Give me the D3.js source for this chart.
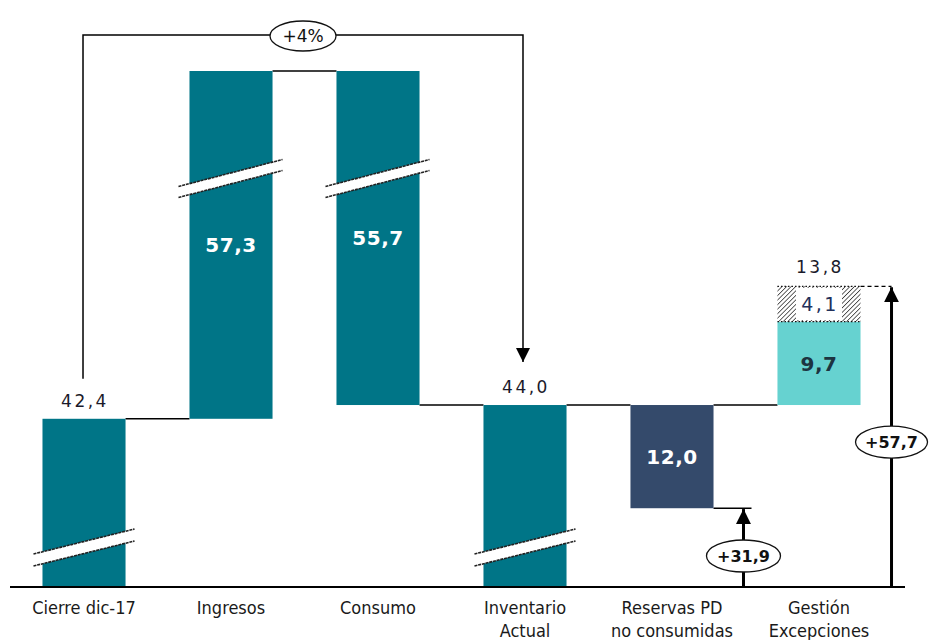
<!DOCTYPE html>
<html><head><meta charset="utf-8">
<script src="https://cdn.jsdelivr.net/npm/d3@7"></script>
<style>body{margin:0;background:#fff;} svg{display:block;}</style>
</head><body><svg id="c" width="930" height="640"></svg>
<script>
// ---- data ----
const categories = ["Cierre dic-17", "Ingresos", "Consumo", "Inventario Actual", "Reservas PD no consumidas", "Gestión Excepciones"];
const categoryLines = [["Cierre dic-17"], ["Ingresos"], ["Consumo"], ["Inventario", "Actual"], ["Reservas PD", "no consumidas"], ["Gestión", "Excepciones"]];
const barFrom = [0, 42.4, 99.7, 0, 44.0, 44.0];
const barTo = [42.4, 99.7, 44.0, 44.0, 32.0, 53.7];
const barValues = [42.4, 57.3, 55.7, 44.0, 12.0, 9.7];
const barKinds = ["total", "delta", "delta", "total", "reserve", "exception"];
const exceptionExtra = [4.1];
const exceptionTotal = [13.8];
const arrowValues = [31.9, 57.7];
const growthLabel = ["+4%"];

// ---- setup ----
const fmt = d3.formatLocale({decimal: ",", thousands: ".", grouping: [3], currency: ["", "€"]}).format(".1f");
const svg = d3.select("#c");
const FONT = "DejaVu Sans";
const colors = {total: "#007587", delta: "#007587", reserve: "#344a6b", exception: "#66d2d0"};

const x = d3.scaleBand().domain(categories).range([0, 903]).paddingInner(0.435).paddingOuter(0.289);
const y = d3.scaleLinear().domain([22.84, 82.84]).range([587, 71]).clamp(true);
const bw = x.bandwidth();
const y0 = y.range()[0], yTop = y.range()[1];
const left = i => x(categories[i]);
const right = i => x(categories[i]) + bw;
const mid = i => x(categories[i]) + bw / 2;

const defs = svg.append("defs");
const hatch = defs.append("pattern").attr("id", "hatch").attr("width", 3.2).attr("height", 3.2)
  .attr("patternUnits", "userSpaceOnUse").attr("patternTransform", "rotate(45)");
hatch.append("rect").attr("width", 3.2).attr("height", 3.2).attr("fill", "#fff");
hatch.append("line").attr("x1", 0).attr("y1", 0).attr("x2", 0).attr("y2", 3.2).attr("stroke", "#111").attr("stroke-width", 1.3);
defs.append("marker").attr("id", "ah").attr("viewBox", "0 0 10 10").attr("refX", 10).attr("refY", 5)
  .attr("markerWidth", 14).attr("markerHeight", 14).attr("markerUnits", "userSpaceOnUse").attr("orient", "auto")
  .append("path").attr("d", "M0,0L10,5L0,10Z").attr("fill", "#000");
defs.append("marker").attr("id", "ah2").attr("viewBox", "0 0 10 10").attr("refX", 10).attr("refY", 5)
  .attr("markerWidth", 15).attr("markerHeight", 15).attr("markerUnits", "userSpaceOnUse").attr("orient", "auto")
  .append("path").attr("d", "M0,0L10,5L0,10Z").attr("fill", "#000");

// ---- connectors ----
const conn = svg.append("g").attr("stroke", "#000").attr("stroke-width", 1.5);
for (let i = 0; i < categories.length - 1; i++) {
  let lvl;
  if (barKinds[i + 1] === "reserve" || barKinds[i + 1] === "exception") lvl = barFrom[i + 1];
  else if (barKinds[i + 1] === "total") lvl = barTo[i + 1];
  else lvl = barFrom[i + 1];
  conn.append("line").attr("x1", right(i)).attr("x2", left(i + 1)).attr("y1", y(lvl)).attr("y2", y(lvl));
}
// reserve bottom connector to the arrow
const arrowX1 = (right(4) + left(5)) / 2 - 2;
conn.append("line").attr("x1", right(4)).attr("x2", arrowX1 + 8).attr("y1", y(barTo[4])).attr("y2", y(barTo[4]));

// ---- bars ----
svg.append("g").selectAll("rect").data(categories).join("rect")
  .attr("x", d => x(d)).attr("width", bw)
  .attr("y", (d, i) => Math.min(y(barFrom[i]), y(barTo[i])))
  .attr("height", (d, i) => Math.abs(y(barFrom[i]) - y(barTo[i])))
  .attr("fill", (d, i) => colors[barKinds[i]]);

// hatched extra on exceptions
const hTop = y(barTo[5] + exceptionExtra[0]), hBot = y(barTo[5]);
svg.append("rect").attr("x", left(5)).attr("width", bw).attr("y", hTop).attr("height", hBot - hTop).attr("fill", "url(#hatch)");
svg.append("rect").attr("x", mid(5) - 23).attr("width", 46).attr("y", hTop + 1.5).attr("height", hBot - hTop - 3).attr("fill", "#fff");
svg.append("g").attr("stroke", "#111").attr("stroke-width", 1.3).attr("stroke-dasharray", "1.5,2")
  .selectAll("line").data([hTop, hBot]).join("line")
  .attr("x1", left(5)).attr("x2", right(5)).attr("y1", d => d).attr("y2", d => d);

// ---- axis breaks ----
function drawBreak(xl, xr, yl, yr, half) {
  const g = svg.append("g");
  g.append("path").attr("d", `M${xl},${yl - half}L${xr},${yr - half}L${xr},${yr + half}L${xl},${yl + half}Z`).attr("fill", "#fff");
  g.append("path").attr("d", `M${xl},${yl - half}L${xr},${yr - half}M${xl},${yl + half}L${xr},${yr + half}`)
    .attr("stroke", "#222").attr("stroke-width", 1.6).attr("stroke-dasharray", "3,0.8").attr("fill", "none");
}
categories.forEach((c, i) => {
  const lo = Math.min(barFrom[i], barTo[i]), hi = Math.max(barFrom[i], barTo[i]);
  if (lo < y.domain()[0]) drawBreak(left(i) - 9, right(i) + 9, y0 - 27, y0 - 52, 6);
  if (hi > y.domain()[1]) drawBreak(left(i) - 11, right(i) + 10, yTop + 121, yTop + 94, 5.5);
});

// ---- baseline ----
svg.append("line").attr("x1", 10).attr("x2", 905).attr("y1", y0).attr("y2", y0).attr("stroke", "#000").attr("stroke-width", 2);

// ---- value labels inside bars ----
svg.append("g").selectAll("text").data(categories).join("text")
  .filter((d, i) => barKinds[i] !== "total")
  .attr("x", d => mid(categories.indexOf(d)))
  .attr("y", d => { const i = categories.indexOf(d); return (y(barFrom[i]) + y(barTo[i])) / 2; })
  .attr("dy", "0.36em").attr("text-anchor", "middle")
  .attr("font-family", FONT).attr("font-weight", "bold").attr("font-size", 20).attr("letter-spacing", 0.5)
  .attr("fill", d => barKinds[categories.indexOf(d)] === "exception" ? "#1c3440" : "#fff")
  .text(d => fmt(barValues[categories.indexOf(d)]));

// total labels above bars
const topLabels = svg.append("g").attr("font-family", FONT).attr("font-size", 17).attr("letter-spacing", 2.5)
  .attr("text-anchor", "middle").attr("fill", "#1a1a2a");
categories.forEach((c, i) => {
  if (barKinds[i] === "total") topLabels.append("text").attr("x", mid(i) + 1).attr("y", y(barTo[i]) - 12).text(fmt(barValues[i]));
});
topLabels.append("text").attr("x", mid(5) + 1).attr("y", hTop - 13).text(fmt(exceptionTotal[0]));
topLabels.append("text").attr("x", mid(5) + 1).attr("y", (hTop + hBot) / 2).attr("dy", "0.36em")
  .attr("font-size", 19).attr("fill", "#22305a").text(fmt(exceptionExtra[0]));

// ---- bubbles ----
function bubble(cx, cy, rx, ry, txt, size, weight) {
  svg.append("ellipse").attr("cx", cx).attr("cy", cy).attr("rx", rx).attr("ry", ry)
    .attr("fill", "#fff").attr("stroke", "#111").attr("stroke-width", 1.3);
  svg.append("text").attr("x", cx).attr("y", cy).attr("dy", "0.36em").attr("text-anchor", "middle")
    .attr("font-family", FONT).attr("font-size", size).attr("font-weight", weight).attr("fill", "#111").text(txt);
}

// growth bracket
const bx1 = mid(0) - 1, bx2 = mid(3) - 2, by = yTop - 36;
svg.append("path").attr("d", `M${bx1},${y(barTo[0]) - 40}V${by}H${bx2}V${y(barTo[3]) - 43}`)
  .attr("fill", "none").attr("stroke", "#000").attr("stroke-width", 1.5).attr("marker-end", "url(#ah)");
bubble((bx1 + bx2) / 2, by + 1, 33, 15, growthLabel[0], 17, "normal");

// +31,9 arrow
svg.append("line").attr("x1", arrowX1).attr("x2", arrowX1).attr("y1", y0).attr("y2", y(arrowValues[0]))
  .attr("stroke", "#000").attr("stroke-width", 3).attr("marker-end", "url(#ah2)");
bubble(arrowX1, y0 - 31, 37, 16, "+" + fmt(arrowValues[0]), 16, "bold");

// +57,7 arrow
const arrowX2 = right(5) + 31;
svg.append("line").attr("x1", right(5)).attr("x2", arrowX2).attr("y1", hTop).attr("y2", hTop)
  .attr("stroke", "#000").attr("stroke-width", 1.3).attr("stroke-dasharray", "4,3");
svg.append("line").attr("x1", arrowX2).attr("x2", arrowX2).attr("y1", y0).attr("y2", y(arrowValues[1]))
  .attr("stroke", "#000").attr("stroke-width", 3).attr("marker-end", "url(#ah2)");
bubble(arrowX2, (y0 + y(arrowValues[1])) / 2 + 5, 36, 16, "+" + fmt(arrowValues[1]), 16, "bold");

// ---- category labels ----
const cat = svg.append("g").attr("font-family", "DejaVu Sans Condensed, DejaVu Sans").attr("font-size", 18)
  .attr("text-anchor", "middle").attr("fill", "#1a1a1a");
categories.forEach((c, i) => {
  const t = cat.append("text").attr("x", mid(i)).attr("y", 614);
  categoryLines[i].forEach((ln, k) => t.append("tspan").attr("x", mid(i)).attr("dy", k ? 23 : 0).text(ln));
});
</script></body></html>
